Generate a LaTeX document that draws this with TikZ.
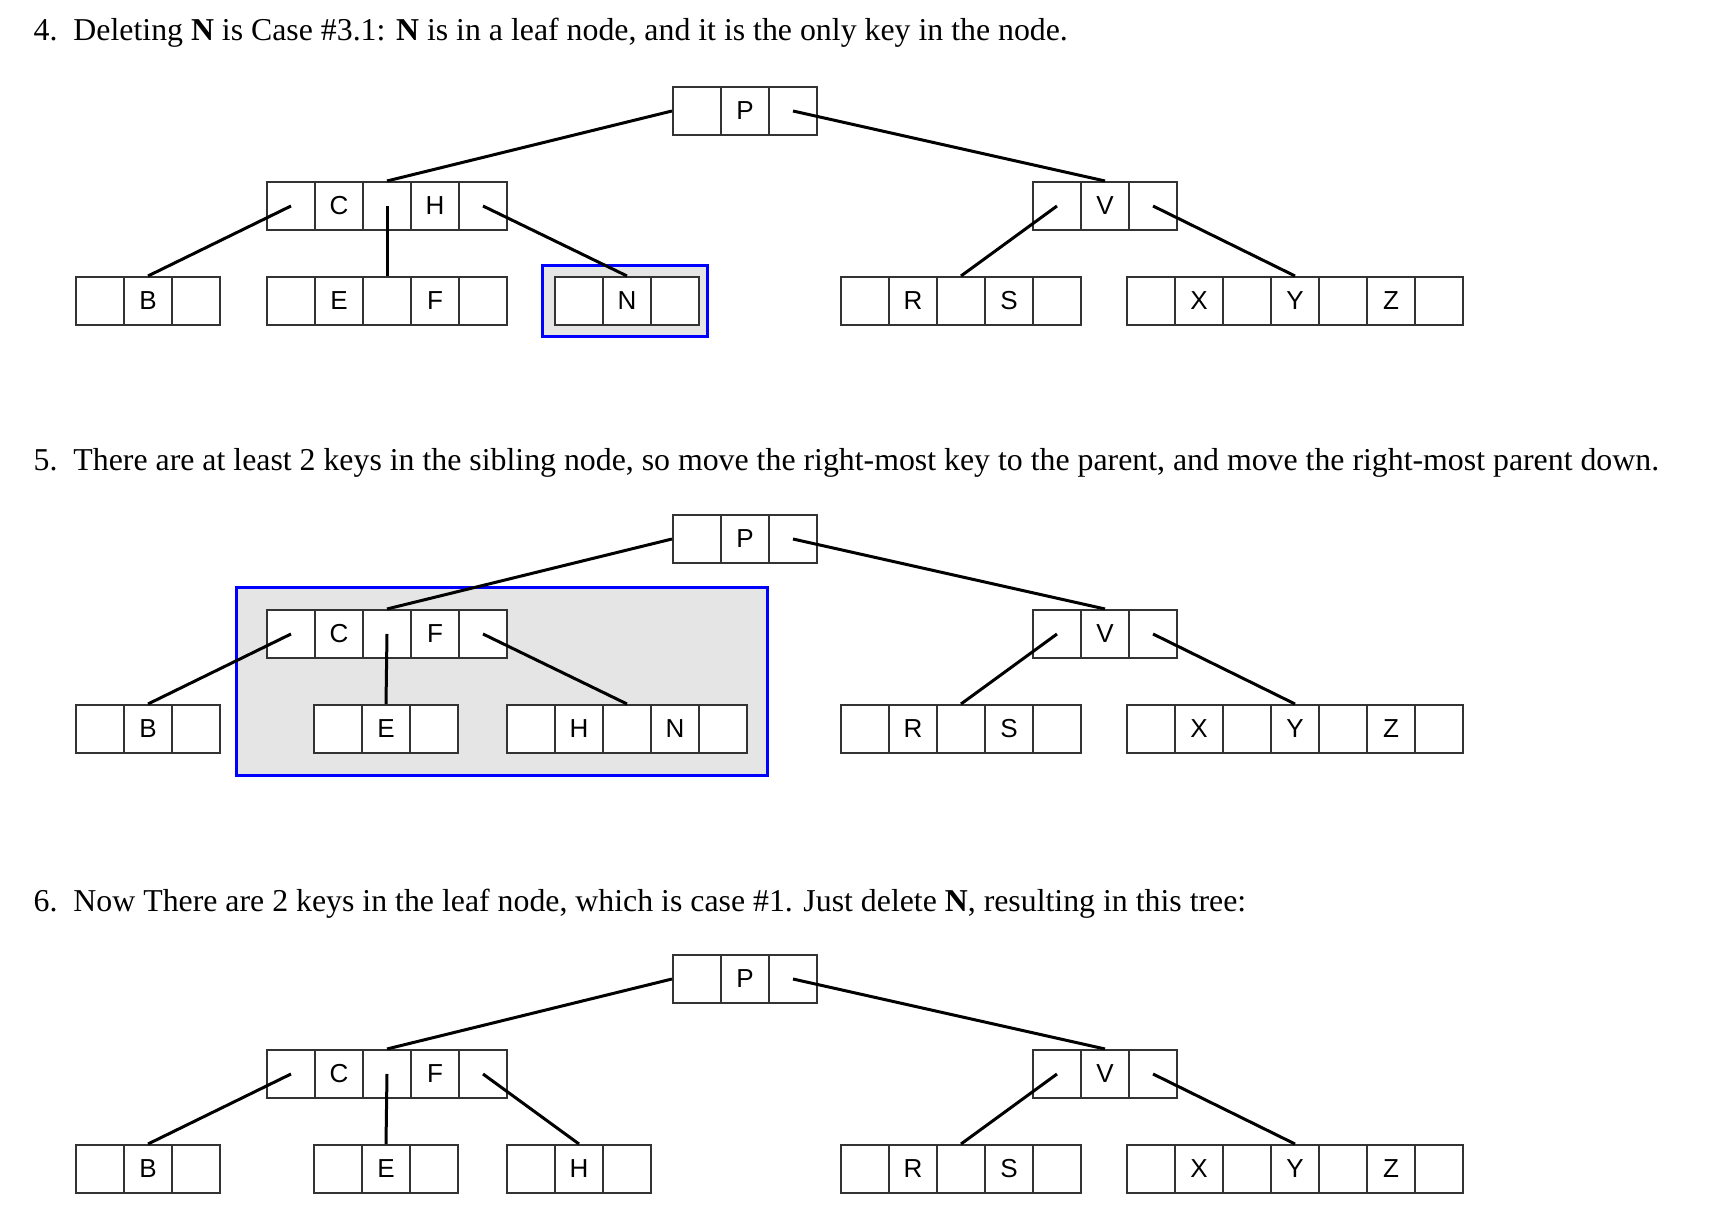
\documentclass[tikz,border=0pt]{standalone}
\usepackage{fontspec}
\setmainfont{Liberation Serif}
\newfontfamily\cellfont{Liberation Sans}
\usetikzlibrary{positioning}

% one row of key cells: name, left x, centre y, keys
\newcommand{\keyrow}[4]{%
  \foreach \k [count=\i] in {#4}
    \node[cell] (#1\i) at ({#2+48*\i-24},{#3}) {\k};
}

\begin{document}
\begin{tikzpicture}[x=0.01cm,y=-0.01cm,
    cell/.style={draw=black!80,line width=0.02cm,fill=white,inner sep=0pt,
      minimum width=0.48cm,minimum height=0.48cm,
      font=\cellfont\fontsize{7.4pt}{8pt}\selectfont},
    link/.style={line width=0.03cm},
    frame/.style={draw=blue,line width=0.03cm,fill=black!10},
    headline/.style={anchor=base west,inner sep=0pt,
      font=\fontsize{9.05pt}{11pt}\selectfont}]
  \useasboundingbox (0,0) rectangle (1730,1216);

  % step 4: the first tree, N alone in its leaf
  \node[headline] (t4) at (33,41) {4.\hspace{0.5em}Deleting \textbf{N} is Case \#3.1: \textbf{N} is in a leaf node, and it is the only key in the node.};

  % blue frame round the leaf holding N
  \draw[frame] (542.5,265.5) rectangle (707.5,336.5);

  \keyrow{aP}{673}{111}{{},P,{}}
  \keyrow{aCH}{267}{206}{{},C,{},H,{}}
  \keyrow{aB}{76}{301}{{},B,{}}
  \keyrow{aEF}{267}{301}{{},E,{},F,{}}
  \keyrow{aN}{555}{301}{{},N,{}}
  \keyrow{aV}{1033}{206}{{},V,{}}
  \keyrow{aRS}{841}{301}{{},R,{},S,{}}
  \keyrow{aXYZ}{1127}{301}{{},X,{},Y,{},Z,{}}

  % pointers from each cell to its child
  \draw[link] (aCH3.north) -- (aP1.west);
  \draw[link] (aP3.center) -- (aV2.north);
  \draw[link] (aCH1.center) -- (aB2.north);
  \draw[link] (aCH3.center) -- (aEF3.north);
  \draw[link] (aCH5.center) -- (aN2.north);
  \draw[link] (aV1.center) -- (aRS3.north);
  \draw[link] (aV3.center) -- (aXYZ4.north);

  % step 5: F goes up, H comes down
  \node[headline] (t5) at (33,471) {5.\hspace{0.5em}There are at least 2 keys in the sibling node, so move the right-most key to the parent, and move the right-most parent down.};

  % grey box round the changed subtree
  \draw[frame] (236.5,587.5) rectangle (767.5,775.5);

  \keyrow{bP}{673}{539}{{},P,{}}
  \keyrow{bCF}{267}{634}{{},C,{},F,{}}
  \keyrow{bB}{76}{729}{{},B,{}}
  \keyrow{bE}{314}{729}{{},E,{}}
  \keyrow{bHN}{507}{729}{{},H,{},N,{}}
  \keyrow{bV}{1033}{634}{{},V,{}}
  \keyrow{bRS}{841}{729}{{},R,{},S,{}}
  \keyrow{bXYZ}{1127}{729}{{},X,{},Y,{},Z,{}}

  \draw[link] (bCF3.north) -- (bP1.west);
  \draw[link] (bP3.center) -- (bV2.north);
  \draw[link] (bCF1.center) -- (bB2.north);
  \draw[link] (bCF3.center) -- (bE2.north);
  \draw[link] (bCF5.center) -- (bHN3.north);
  \draw[link] (bV1.center) -- (bRS3.north);
  \draw[link] (bV3.center) -- (bXYZ4.north);

  % step 6: N deleted from the leaf
  \node[headline] (t6) at (33,912) {6.\hspace{0.5em}Now There are 2 keys in the leaf node, which is case \#1. Just delete \textbf{N}, resulting in this tree:};

  \keyrow{cP}{673}{979}{{},P,{}}
  \keyrow{cCF}{267}{1074}{{},C,{},F,{}}
  \keyrow{cB}{76}{1169}{{},B,{}}
  \keyrow{cE}{314}{1169}{{},E,{}}
  \keyrow{cH}{507}{1169}{{},H,{}}
  \keyrow{cV}{1033}{1074}{{},V,{}}
  \keyrow{cRS}{841}{1169}{{},R,{},S,{}}
  \keyrow{cXYZ}{1127}{1169}{{},X,{},Y,{},Z,{}}

  \draw[link] (cCF3.north) -- (cP1.west);
  \draw[link] (cP3.center) -- (cV2.north);
  \draw[link] (cCF1.center) -- (cB2.north);
  \draw[link] (cCF3.center) -- (cE2.north);
  \draw[link] (cCF5.center) -- (cH2.north);
  \draw[link] (cV1.center) -- (cRS3.north);
  \draw[link] (cV3.center) -- (cXYZ4.north);
\end{tikzpicture}
\end{document}
